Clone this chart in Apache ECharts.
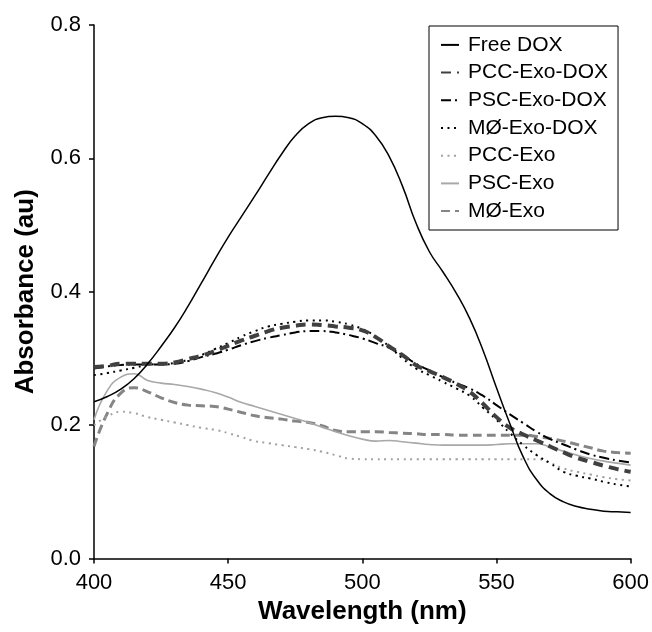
<!DOCTYPE html>
<html>
<head>
<meta charset="utf-8">
<script src="https://cdn.jsdelivr.net/npm/echarts@6/dist/echarts.min.js"></script>
<style>
html,body{margin:0;padding:0;background:#fff;}
#chart{width:652px;height:632px;}
</style>
</head>
<body>
<div id="chart"></div>
<script>
const wavelengths = [400,405,410,415,420,425,430,435,440,445,450,455,460,465,470,475,480,485,490,495,500,505,510,515,520,525,530,535,540,545,550,555,560,565,570,575,580,585,590,595,600];
const xTicks = [400,450,500,550,600];
const yTicks = [0.0,0.2,0.4,0.6,0.8];
const seriesNames = ['Free DOX','PCC-Exo-DOX','PSC-Exo-DOX','MØ-Exo-DOX','PCC-Exo','PSC-Exo','MØ-Exo'];

const freeDox = [0.235,0.243,0.254,0.270,0.292,0.318,0.346,0.378,0.413,0.448,0.482,0.513,0.544,0.576,0.607,0.634,0.652,0.661,0.663,0.661,0.652,0.634,0.603,0.558,0.503,0.460,0.430,0.398,0.360,0.312,0.256,0.202,0.152,0.118,0.097,0.085,0.078,0.074,0.071,0.070,0.069];
const pccExoDox = [0.287,0.289,0.292,0.292,0.292,0.292,0.294,0.299,0.304,0.311,0.319,0.327,0.334,0.341,0.346,0.349,0.351,0.350,0.348,0.346,0.342,0.332,0.318,0.305,0.290,0.281,0.272,0.262,0.250,0.232,0.212,0.196,0.186,0.177,0.168,0.159,0.151,0.145,0.139,0.134,0.130];
const pscExoDox = [0.285,0.288,0.290,0.291,0.291,0.291,0.292,0.296,0.302,0.307,0.313,0.320,0.326,0.331,0.335,0.339,0.341,0.341,0.339,0.335,0.330,0.323,0.316,0.305,0.292,0.282,0.272,0.263,0.255,0.244,0.230,0.216,0.203,0.190,0.179,0.171,0.163,0.156,0.151,0.147,0.144];
const moExoDox = [0.275,0.278,0.282,0.286,0.290,0.292,0.293,0.298,0.305,0.314,0.323,0.333,0.341,0.348,0.352,0.355,0.357,0.357,0.355,0.351,0.344,0.333,0.318,0.300,0.285,0.275,0.265,0.255,0.244,0.226,0.208,0.188,0.170,0.155,0.143,0.130,0.124,0.120,0.115,0.111,0.108];
const pccExo = [0.200,0.213,0.220,0.218,0.212,0.208,0.204,0.200,0.196,0.193,0.188,0.182,0.176,0.173,0.170,0.167,0.164,0.160,0.155,0.150,0.149,0.149,0.149,0.149,0.149,0.149,0.149,0.149,0.149,0.149,0.149,0.149,0.149,0.149,0.143,0.135,0.130,0.126,0.122,0.119,0.117];
const pscExo = [0.208,0.252,0.272,0.277,0.267,0.263,0.261,0.258,0.254,0.249,0.242,0.234,0.228,0.222,0.216,0.210,0.204,0.197,0.190,0.184,0.179,0.176,0.177,0.175,0.173,0.171,0.170,0.170,0.170,0.170,0.171,0.172,0.172,0.172,0.167,0.161,0.155,0.150,0.146,0.143,0.140];
const moExo = [0.168,0.218,0.248,0.256,0.250,0.241,0.234,0.230,0.229,0.228,0.224,0.219,0.214,0.211,0.209,0.206,0.204,0.199,0.192,0.190,0.190,0.190,0.189,0.188,0.187,0.186,0.186,0.185,0.185,0.185,0.185,0.185,0.185,0.183,0.180,0.176,0.171,0.166,0.161,0.159,0.158];

const values = [freeDox, pccExoDox, pscExoDox, moExoDox, pccExo, pscExo, moExo];
const styles = [
  {color:'#000000', width:1.5, type:'solid'},
  {color:'#404040', width:4, type:[10,6]},
  {color:'#000000', width:2, type:[10,4,2,4]},
  {color:'#000000', width:2, type:[2,4.5]},
  {color:'#a0a0a0', width:2, type:[2,4.5]},
  {color:'#a8a8a8', width:1.6, type:'solid'},
  {color:'#858585', width:3, type:[9,5]}
];

const FONT = '"Liberation Sans", Arial, Helvetica, sans-serif';
const chart = echarts.init(document.getElementById('chart'), null, {renderer:'canvas'});

const series = seriesNames.map((name, k) => ({
  name: name,
  type: 'line',
  smooth: true,
  symbol: 'none',
  showSymbol: false,
  z: 10 - k,
  lineStyle: {color: styles[k].color, width: styles[k].width, type: styles[k].type, cap: 'butt'},
  itemStyle: {color: styles[k].color},
  data: wavelengths.map((w, i) => [w, values[k][i]])
}));

chart.setOption({
  animation: false,
  backgroundColor: '#ffffff',
  textStyle: {fontFamily: FONT},
  grid: {left: 94, right: 19, top: 25, bottom: 73.5, containLabel: false},
  xAxis: {
    type: 'value',
    min: xTicks[0], max: xTicks[xTicks.length-1], interval: 50,
    name: 'Wavelength (nm)',
    nameLocation: 'middle',
    nameGap: 37,
    nameTextStyle: {fontFamily: FONT, fontSize: 26, fontWeight: 'bold', color: '#000', lineHeight: 26},
    axisLine: {lineStyle: {color: '#000', width: 1.5}},
    axisTick: {show: true, length: 5, lineStyle: {color: '#000', width: 1.5}},
    axisLabel: {fontFamily: FONT, fontSize: 22, color: '#000', margin: 13, lineHeight: 22,
      formatter: v => xTicks.includes(v) ? String(v) : ''},
    splitLine: {show: false}
  },
  yAxis: {
    type: 'value',
    min: yTicks[0], max: yTicks[yTicks.length-1], interval: 0.2,
    name: 'Absorbance (au)',
    nameLocation: 'middle',
    nameGap: 55,
    nameRotate: 90,
    nameTextStyle: {fontFamily: FONT, fontSize: 26, fontWeight: 'bold', color: '#000', lineHeight: 26},
    axisLine: {show: true, lineStyle: {color: '#000', width: 1.5}},
    axisTick: {show: true, length: 5, lineStyle: {color: '#000', width: 1.5}},
    axisLabel: {fontFamily: FONT, fontSize: 22, color: '#000', margin: 13,
      formatter: v => v.toFixed(1)},
    splitLine: {show: false}
  },
  legend: {
    orient: 'vertical',
    left: 429, top: 26,
    padding: [8.4, 10, 8.4, 11],
    itemGap: 6.7,
    itemWidth: 18, itemHeight: 14,
    borderColor: '#000', borderWidth: 1,
    backgroundColor: '#fff',
    itemStyle: {opacity: 0},
    textStyle: {fontFamily: FONT, fontSize: 21, color: '#000', lineHeight: 21, padding: [0,0,0,4]},
    data: seriesNames
  },
  series: series
});
</script>
</body>
</html>
